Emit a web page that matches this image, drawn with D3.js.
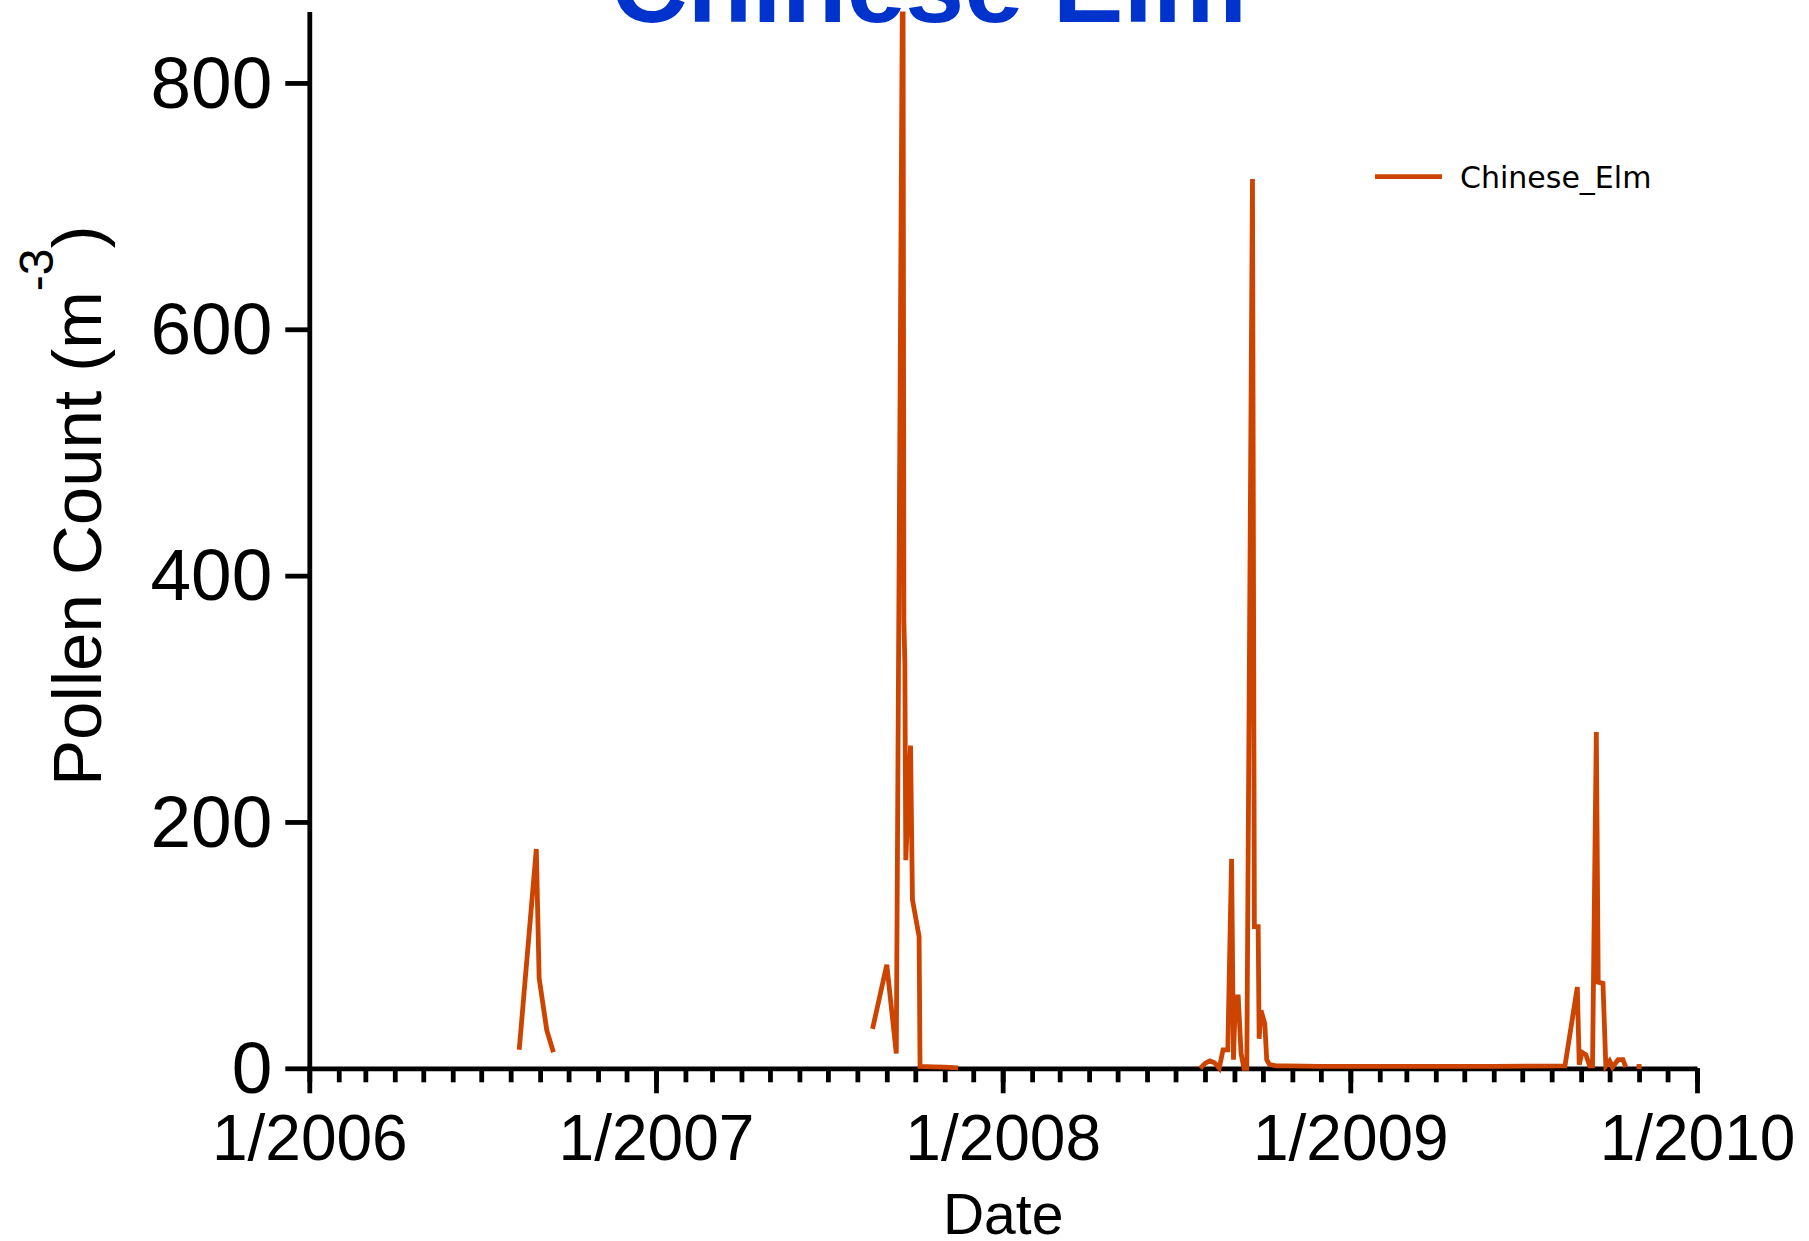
<!DOCTYPE html>
<html><head><meta charset="utf-8">
<script src="https://cdn.jsdelivr.net/npm/d3@7"></script>
<style>body{margin:0;background:#fff} svg{display:block}</style>
</head><body>
<svg id="chart" width="1809" height="1241"></svg>
<script>
// ---- data ----
const chartTitle = "Chinese Elm";
const seriesName = "Chinese_Elm";
const xTitle = "Date";
const dates = [
  "2006-08-10","2006-08-28","2006-08-31","2006-09-08","2006-09-15","2006-12-01",
  "2007-08-17","2007-09-01","2007-09-11","2007-09-18","2007-09-19","2007-09-20","2007-09-21",
  "2007-09-26","2007-09-28","2007-10-05","2007-10-06","2007-10-20","2007-11-01","2007-11-15","2008-01-01",
  "2008-07-27","2008-08-01","2008-08-06","2008-08-11","2008-08-16","2008-08-20","2008-08-25","2008-08-29",
  "2008-08-31","2008-09-02","2008-09-05","2008-09-08","2008-09-11","2008-09-14","2008-09-20","2008-09-22",
  "2008-09-26","2008-09-27","2008-09-29","2008-10-03","2008-10-05","2008-10-08","2008-10-15","2008-10-26",
  "2008-12-01","2009-02-01","2009-04-01","2009-06-01","2009-08-15","2009-08-28","2009-08-30","2009-09-02",
  "2009-09-06","2009-09-10","2009-09-13","2009-09-17","2009-09-19","2009-09-24","2009-09-27","2009-10-01",
  "2009-10-04","2009-10-10","2009-10-15","2009-10-18","2009-10-25","2009-11-01"
];
const values = [
  15,178,73,31,13,null,
  32,84,12,950,362,330,169,
  262,137,107,1.5,1.2,1,0.4,null,
  0,4,6,4.5,0,15,15,170,
  7,58,58,12,0,0,722,115,
  115,24,47,36,7,3,2,2,
  1.5,1.5,1.5,1.5,2,66,3,13,
  11,2,2,273,70,69,2,6,
  1,7,7,1,null,1
];
const yTicks = [0,200,400,600,800];
const yMax = 858;
const xTickLabels = ["1/2006","1/2007","1/2008","1/2009","1/2010"];

// ---- layout ----
const svg = d3.select("#chart");
const mLeft = 309.3, mRight = 1697, mTop = 11.5, mBottom = 1068.3;
const lineColor = "#cc4400";
const font = "'Liberation Sans', Arial, sans-serif";
const axisW = 4.8;

const parse = d3.timeParse("%Y-%m-%d");
const parseTick = s => { const [m, yr] = s.split("/"); return new Date(+yr, +m - 1, 1); };
const data = dates.map((d, i) => ({date: parse(d), value: values[i]}));

const x = d3.scaleTime()
  .domain([parseTick(xTickLabels[0]), parseTick(xTickLabels[xTickLabels.length - 1])])
  .range([mLeft, mRight]);
const y = d3.scaleLinear().domain([0, yMax]).range([mBottom, mTop]);

// title (cut off at top)
svg.append("text").attr("x", 929).attr("y", 22)
  .attr("text-anchor", "middle")
  .attr("font-family", font).attr("font-weight", "bold").attr("font-size", 106)
  .attr("fill", "#0033cc").text(chartTitle);

// y axis
const yAxis = svg.append("g").attr("transform", `translate(${mLeft},0)`)
  .call(d3.axisLeft(y).tickValues(yTicks).tickSize(24).tickSizeOuter(0).tickPadding(13)
    .tickFormat(d3.format("d")));
yAxis.select(".domain").attr("stroke", "#000").attr("stroke-width", axisW);
yAxis.selectAll(".tick line").attr("stroke", "#000").attr("stroke-width", axisW);
yAxis.selectAll(".tick text").attr("font-family", font).attr("font-size", 73)
  .attr("fill", "#000").attr("dy", "0.33em");

// x axis minor (monthly)
const xMinor = svg.append("g").attr("transform", `translate(0,${mBottom})`)
  .call(d3.axisBottom(x).ticks(d3.timeMonth.every(1)).tickSize(14).tickSizeOuter(0).tickFormat(""));
xMinor.select(".domain").attr("stroke", "#000").attr("stroke-width", axisW);
xMinor.selectAll(".tick line").attr("stroke", "#000").attr("stroke-width", axisW);

// x axis major (yearly)
const xAxis = svg.append("g").attr("transform", `translate(0,${mBottom})`)
  .call(d3.axisBottom(x).tickValues(xTickLabels.map(parseTick)).tickSize(25).tickSizeOuter(0)
    .tickPadding(21).tickFormat((d, i) => xTickLabels[i]));
xAxis.select(".domain").remove();
xAxis.selectAll(".tick line").attr("stroke", "#000").attr("stroke-width", axisW);
xAxis.selectAll(".tick text").attr("font-family", font).attr("font-size", 64).attr("fill", "#000");

// data line (drawn over the axes)
svg.append("clipPath").attr("id", "clip")
  .append("rect").attr("x", 0).attr("y", mTop).attr("width", 1809).attr("height", 1241 - mTop);

const line = d3.line().defined(d => d.value != null)
  .x(d => x(d.date)).y(d => y(d.value));
const g = svg.append("g").attr("clip-path", "url(#clip)");
g.append("path").datum(data)
  .attr("fill", "none").attr("stroke", lineColor).attr("stroke-width", 4.8)
  .attr("stroke-linejoin", "miter").attr("d", line);
// isolated points (no defined neighbours)
const isolated = data.filter((d, i) => d.value != null &&
  (i === 0 || data[i - 1].value == null) && (i === data.length - 1 || data[i + 1].value == null));
g.selectAll("rect.iso").data(isolated).join("rect").attr("class", "iso")
  .attr("x", d => x(d.date) - 2.5).attr("y", d => y(d.value) - 3)
  .attr("width", 5).attr("height", 5).attr("fill", lineColor);

// axis titles
svg.append("text").attr("x", (mLeft + mRight) / 2).attr("y", 1234)
  .attr("text-anchor", "middle").attr("font-family", font).attr("font-size", 57)
  .attr("fill", "#000").text(xTitle);

const yl = svg.append("text").attr("transform", "translate(101,786) rotate(-90)")
  .attr("font-family", font).attr("font-size", 69).attr("fill", "#000");
yl.append("tspan").text("Pollen Count (m");
yl.append("tspan").attr("font-size", 48).attr("dy", -48).text("-3");
yl.append("tspan").attr("dy", 48).text(")");

// legend
svg.append("line").attr("x1", 1375).attr("x2", 1442).attr("y1", 176.7).attr("y2", 176.7)
  .attr("stroke", lineColor).attr("stroke-width", 4.8);
svg.append("text").attr("x", 1460).attr("y", 188)
  .attr("font-family", "'DejaVu Sans', sans-serif").attr("font-size", 30).attr("fill", "#000")
  .text(seriesName);
</script>
</body></html>
